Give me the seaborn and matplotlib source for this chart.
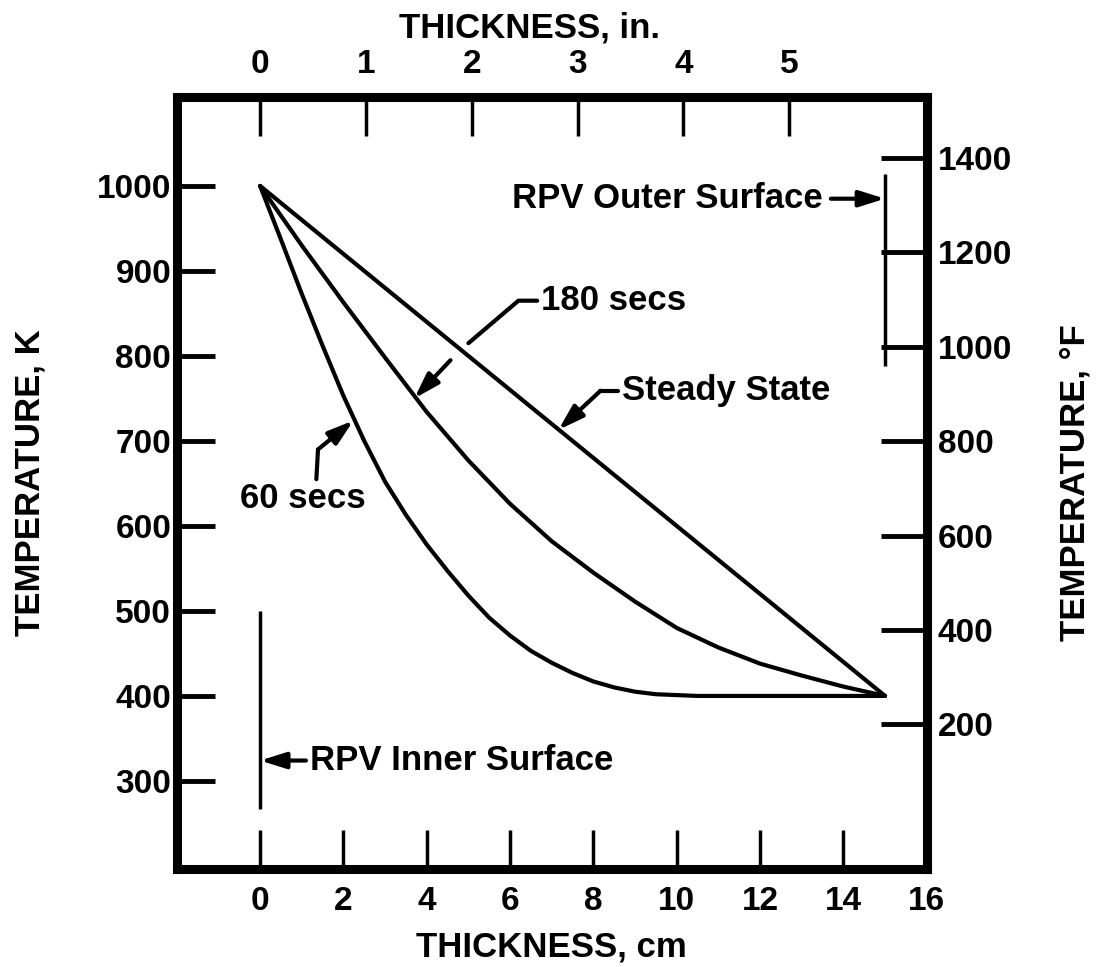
import pandas as pd
import matplotlib
matplotlib.use("Agg")
import matplotlib.pyplot as plt
import seaborn as sns

# temperature profiles through the vessel wall
# (thickness in cm, temperature in K)
steady_cm = [0, 5, 10, 15]
steady_K = [1000, 800, 600, 400]

s180_cm = [0, 1, 2, 3, 4, 5, 6, 7, 8, 9, 10, 11, 12, 13, 14, 15]
s180_K = [1000, 930, 863, 798, 734, 677, 626, 582, 545, 511, 480, 457, 438, 424, 411, 400]

s60_cm = [0, 0.5, 1, 1.5, 2, 2.5, 3, 3.5, 4, 4.5, 5, 5.5, 6, 6.5, 7, 7.5, 8, 8.5, 9,
          9.5, 10, 10.5, 12.5, 15]
s60_K = [1000, 937, 873, 812, 753, 700, 652, 613, 578, 547, 518, 492, 471, 453, 439,
         427, 417, 410, 405, 402, 401, 400, 400, 400]

cm_ticks = [0, 2, 4, 6, 8, 10, 12, 14, 16]
in_ticks = [0, 1, 2, 3, 4, 5]
K_ticks = [300, 400, 500, 600, 700, 800, 900, 1000]
F_ticks = [200, 400, 600, 800, 1000, 1200, 1400]

inner_cm = 0
outer_cm = 15

df = pd.concat([
    pd.DataFrame({"cm": steady_cm, "K": steady_K, "curve": "Steady State"}),
    pd.DataFrame({"cm": s180_cm, "K": s180_K, "curve": "180 secs"}),
    pd.DataFrame({"cm": s60_cm, "K": s60_K, "curve": "60 secs"}),
])

sns.set_style("white")
plt.rcParams["font.family"] = ["Liberation Sans", "DejaVu Sans"]
plt.rcParams["font.weight"] = "bold"
plt.rcParams["axes.labelweight"] = "bold"
for key in ["text.color", "axes.labelcolor", "xtick.color", "ytick.color", "axes.edgecolor"]:
    plt.rcParams[key] = "black"

fig = plt.figure(figsize=(10.98, 9.67), dpi=100)
ax = fig.add_axes([0.161, 0.101, 0.683, 0.799])

sns.lineplot(data=df, x="cm", y="K", hue="curve", sort=False, estimator=None,
             palette={"Steady State": "black", "180 secs": "black", "60 secs": "black"},
             legend=False, linewidth=3, ax=ax)

ax.set_xlim(-2, 16)
ax.set_ylim(196, 1105)
ax.set_xticks(cm_ticks)
ax.set_yticks(K_ticks)
for s in ax.spines.values():
    s.set_linewidth(6.5)
ax.tick_params(axis="y", direction="in", length=27, width=3.5, labelsize=24, pad=4,
               left=True, right=False)
ax.tick_params(axis="x", direction="in", length=28, width=2.5, labelsize=24, pad=12,
               bottom=True, top=False)
ax.set_xlabel("THICKNESS, cm", fontsize=25, labelpad=10)
ax.set_ylabel("TEMPERATURE, K", fontsize=25, labelpad=36)

# top axis in inches
top = ax.secondary_xaxis("top", functions=(lambda x: x / 2.54, lambda x: x * 2.54))
top.set_xticks(in_ticks)
top.tick_params(direction="in", length=28, width=2.5, labelsize=24, pad=12)
top.spines["top"].set_linewidth(6.5)
top.set_xlabel("THICKNESS, in.", fontsize=25, labelpad=8)
top.xaxis.label.set_x(0.47)

# right axis in Fahrenheit
right = ax.secondary_yaxis("right", functions=(lambda k: (k - 273.15) * 9 / 5 + 32,
                                               lambda f: (f - 32) * 5 / 9 + 273.15))
right.set_yticks(F_ticks)
right.tick_params(direction="in", length=33, width=3.5, labelsize=24, pad=8)
right.spines["right"].set_linewidth(6.5)
right.set_ylabel("TEMPERATURE, \u00b0F", fontsize=25, labelpad=33)

# surface markers
ax.vlines(inner_cm, 267, 500, color="black", lw=2.5)
ax.vlines(outer_cm, 788, 1014, color="black", lw=2.5)

arrow = dict(arrowstyle="-|>,head_length=0.7,head_width=0.22", color="black", lw=3,
             mutation_scale=22, shrinkA=0, shrinkB=0)

ax.annotate("", xy=(outer_cm, 985), xytext=(13.7, 985), arrowprops=arrow)
ax.text(13.5, 985, "RPV Outer Surface", fontsize=25, ha="right", va="center")

ax.annotate("", xy=(inner_cm, 324), xytext=(1.1, 324), arrowprops=arrow)
ax.text(1.2, 324, "RPV Inner Surface", fontsize=25, ha="left", va="center")

# 180 secs leader, broken where it crosses the steady-state line
ax.plot([6.65, 6.2, 5.0], [865, 865, 815], color="black", lw=3, solid_capstyle="round")
ax.annotate("", xy=(3.7, 750), xytext=(4.57, 795), arrowprops=arrow)
ax.text(6.75, 865, "180 secs", fontsize=25, ha="left", va="center")

ax.plot([8.6, 8.17], [759, 759], color="black", lw=3, solid_capstyle="round")
ax.annotate("", xy=(7.16, 713), xytext=(8.17, 759), arrowprops=arrow)
ax.text(8.68, 759, "Steady State", fontsize=25, ha="left", va="center")

ax.plot([1.35, 1.39], [655, 690], color="black", lw=3, solid_capstyle="round")
ax.annotate("", xy=(2.24, 724), xytext=(1.39, 690), arrowprops=arrow)
ax.text(1.03, 632, "60 secs", fontsize=25, ha="center", va="center")

fig.savefig("out.png", dpi=100)
